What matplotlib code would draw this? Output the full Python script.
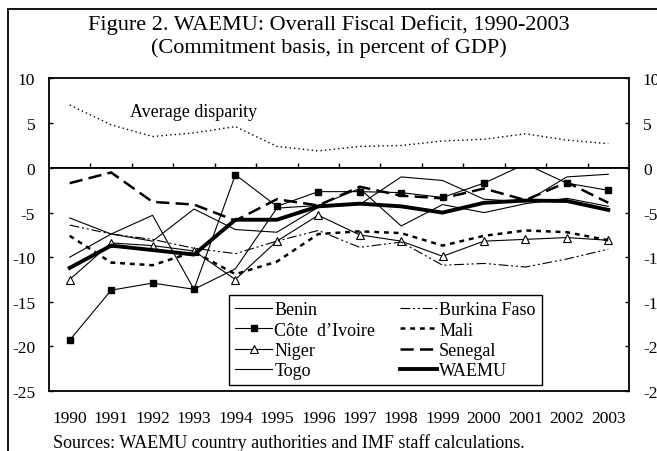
import matplotlib
matplotlib.use('Agg')

from matplotlib import pyplot as plt
from matplotlib.patches import Rectangle

plt.rcParams['font.family'] = ['Liberation Serif', 'DejaVu Serif']
plt.rcParams['font.size'] = 12.5
plt.rcParams['lines.scale_dashes'] = False
plt.rcParams['axes.unicode_minus'] = False

years = list(range(1990, 2004))

benin = [-5.6, -7.4, -8.2, -4.6, -6.9, -7.2, -4.4, -4.1, -1.0, -1.4, -3.5, -3.8, -1.0, -0.7]
burkina = [-6.4, -7.4, -8.0, -9.0, -9.6, -8.2, -7.0, -8.9, -8.3, -10.9, -10.7, -11.1, -10.2, -9.1]
cote = [-19.3, -13.7, -12.9, -13.6, -0.75, -4.3, -2.65, -2.65, -2.76, -3.3, -1.7, 0.45, -1.7, -2.5]
mali = [-7.6, -10.6, -10.9, -9.4, -11.9, -10.5, -7.4, -7.1, -7.3, -8.7, -7.6, -7.0, -7.2, -8.1]
niger = [-12.5, -8.4, -8.7, -9.3, -12.5, -8.2, -5.3, -7.5, -8.2, -9.9, -8.2, -8.0, -7.8, -8.1]
senegal = [-1.7, -0.5, -3.8, -4.1, -5.9, -3.5, -4.2, -2.1, -3.1, -3.4, -2.3, -3.6, -1.6, -3.9]
togo = [-10.0, -7.4, -5.3, -13.6, -11.3, -4.5, -4.2, -2.3, -6.5, -4.1, -5.0, -4.0, -3.4, -4.3]
waemu = [-11.2, -8.7, -9.2, -9.7, -5.8, -5.8, -4.3, -4.0, -4.3, -5.0, -3.9, -3.65, -3.7, -4.7]
disparity = [7.0, 4.8, 3.5, 3.9, 4.6, 2.4, 1.9, 2.4, 2.5, 3.0, 3.2, 3.8, 3.1, 2.7]

W, H = 657, 452
fig = plt.figure(figsize=(W / 100, H / 100), dpi=100)

left = 49 / W
width = (629 - 49) / W
ax_top = fig.add_axes([left, 1 - 169 / H, width, (169 - 79) / H])
ax = fig.add_axes([left, 1 - 392 / H, width, (392 - 169) / H])

# Upper panel: average disparity
ax_top.plot(years, disparity, color='black', lw=1.0, linestyle=(0, (1, 2.2)))
ax_top.text(1991.45, 6.3, 'Average disparity', ha='left', va='center', fontsize=13)
ax_top.set_xlim(1989.5, 2003.5)
ax_top.set_ylim(0, 10)
ax_top.set_yticks([5, 10])
ax_top.set_xticks([y + 0.5 for y in years[:-1]])
ax_top.set_xticklabels([])
ax_top.tick_params(axis='x', direction='in', length=3.6, width=1, bottom=True, top=False)
ax_top.tick_params(axis='y', direction='in', length=3.2, width=1, left=True, right=True,
                   labelleft=True, labelright=True, pad=10)

# Lower panel: country deficits
thin = 0.8
ax.plot(years, benin, color='black', lw=thin, label='Benin')
ax.plot(years, cote, color='black', lw=thin, marker='s', ms=4, label='C\u00f4te  d\u2019Ivoire')
ax.plot(years, niger, color='black', lw=thin, marker='^', ms=6, mfc='white', mew=0.8,
        label='Niger')
ax.plot(years, togo, color='black', lw=thin, label='Togo')
ax.plot(years, burkina, color='black', lw=thin, linestyle=(0, (7, 2, 1.5, 2, 1.5, 2)),
        label='Burkina Faso')
ax.plot(years, mali, color='black', lw=1.8, linestyle=(0, (3.5, 3.5)), label='Mali')
ax.plot(years, senegal, color='black', lw=1.8, linestyle=(0, (9.5, 4.5)), label='Senegal')
ax.plot(years, waemu, color='black', lw=2.8, label='WAEMU')

ax.set_xlim(1989.5, 2003.5)
ax.set_ylim(-25, 0)
ax.set_yticks([0, -5, -10, -15, -20, -25])
ax.set_xticks(years)
ax.set_xticklabels([str(y) for y in years])
ax.tick_params(axis='x', length=0, pad=14)
ax.tick_params(axis='y', direction='in', length=3.2, width=1, left=True, right=True,
               labelleft=True, labelright=True, pad=10)

for a in (ax, ax_top):
    for s in a.spines.values():
        s.set_linewidth(1.3)

leg = ax.legend(ncol=2, loc='upper left', bbox_to_anchor=(229 / W, 1 - 296 / H),
                bbox_transform=fig.transFigure, frameon=True, fancybox=False,
                edgecolor='black', framealpha=1, fontsize=13, handlelength=2.05,
                handletextpad=0.12, labelspacing=0.18, columnspacing=1.35,
                borderpad=0.35, borderaxespad=0, numpoints=1)
leg.get_frame().set_linewidth(1.0)

fig.text(0.5, 1 - 25 / H, 'Figure 2. WAEMU: Overall Fiscal Deficit, 1990-2003',
         ha='center', va='center', fontsize=16)
fig.text(0.5, 1 - 48 / H, '(Commitment basis, in percent of GDP)',
         ha='center', va='center', fontsize=16)
fig.text(53 / W, 1 - 443 / H, 'Sources: WAEMU country authorities and IMF staff calculations.',
         ha='left', va='center', fontsize=13)

# outer frame of the figure box (cropped on the right and bottom)
fig.patches.append(Rectangle((8 / W, -0.2), 1.0, 1.2 - 10 / H, transform=fig.transFigure,
                             fill=False, edgecolor='black', linewidth=1.3))

fig.savefig('out.png', dpi=100)
